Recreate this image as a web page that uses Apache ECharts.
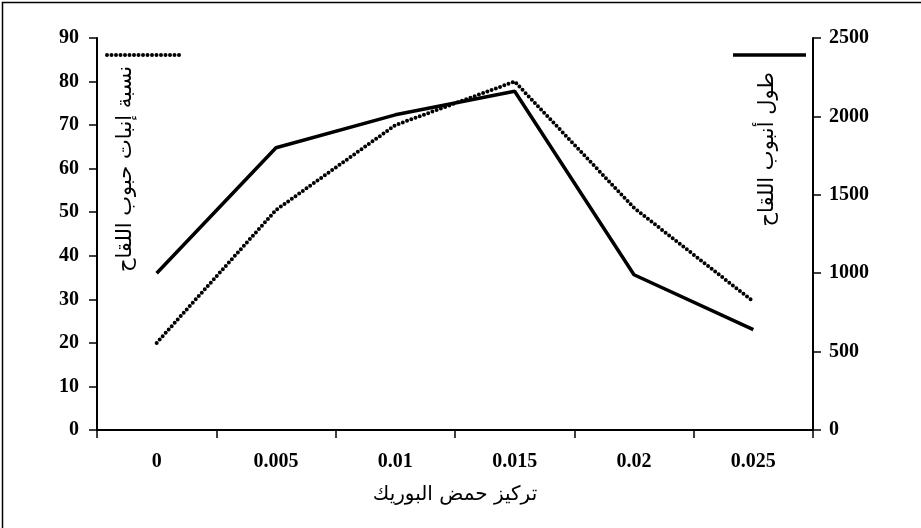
<!DOCTYPE html>
<html>
<head>
<meta charset="UTF-8">
<title>chart</title>
<script src="https://cdn.jsdelivr.net/npm/echarts@6/dist/echarts.min.js"></script>
<style>
html,body{margin:0;padding:0;background:#fff;}
#main{width:921px;height:528px;}
</style>
</head>
<body>
<div id="main"></div>
<script>
var categories = ['0', '0.005', '0.01', '0.015', '0.02', '0.025'];
var germination = [20, 50.5, 70, 80, 51, 29.5];
var tubeLength = [1000, 1800, 2010, 2160, 990, 640];
var leftTicks = [0, 90, 10];
var rightTicks = [0, 2500, 500];

var chart = echarts.init(document.getElementById('main'));
var serif = 'Liberation Serif';
var axisLabel = {color: '#000', fontFamily: serif, fontWeight: 'bold', fontSize: 20};
var option = {
	animation: false,
	grid: {left: 97, right: 108, top: 38, bottom: 98},
	xAxis: {
		type: 'category', data: categories, boundaryGap: true,
		axisLine: {lineStyle: {color: '#000', width: 2}},
		axisTick: {show: true, length: 8, inside: false, lineStyle: {color: '#000', width: 1.5}},
		axisLabel: Object.assign({margin: 22}, axisLabel),
		name: 'تركيز حمض البوريك', nameLocation: 'middle', nameGap: 55,
		nameTextStyle: {color: '#000', fontFamily: 'DejaVu Sans', fontSize: 20}
	},
	yAxis: [{
		type: 'value', min: leftTicks[0], max: leftTicks[1], interval: leftTicks[2],
		axisLine: {show: true, lineStyle: {color: '#000', width: 2}},
		axisTick: {show: true, length: 8, lineStyle: {color: '#000', width: 1.5}},
		splitLine: {show: false},
		axisLabel: Object.assign({margin: 18}, axisLabel)
	}, {
		type: 'value', min: rightTicks[0], max: rightTicks[1], interval: rightTicks[2],
		position: 'right',
		axisLine: {show: true, lineStyle: {color: '#000', width: 2}},
		axisTick: {show: true, length: 8, lineStyle: {color: '#000', width: 1.5}},
		splitLine: {show: false},
		axisLabel: Object.assign({margin: 16, formatter: function (v) { return String(v); }}, axisLabel)
	}],
	series: [{
		name: 'germination', type: 'line', yAxisIndex: 0, data: germination,
		symbol: 'none',
		lineStyle: {color: '#000', width: 4, type: [0, 4.5], cap: 'round'}
	}, {
		name: 'tube', type: 'line', yAxisIndex: 1, data: tubeLength,
		symbol: 'none',
		lineStyle: {color: '#000', width: 3.5}
	}],
	graphic: [
		{type: 'rect', left: 0, top: 0, shape: {width: 920, height: 527}, style: {fill: 'none', stroke: '#000', lineWidth: 1.5}},
		{type: 'line', shape: {x1: 107, y1: 55, x2: 183, y2: 55}, style: {stroke: '#000', lineWidth: 4, lineDash: [0, 4.5], lineCap: 'round'}},
		{type: 'line', shape: {x1: 733, y1: 55, x2: 806, y2: 55}, style: {stroke: '#000', lineWidth: 3.5}},
		{type: 'text', x: 126, y: 66, rotation: Math.PI / 2,
			style: {text: 'نسبة إنبات حبوب اللقاح', fill: '#000', font: '21px "DejaVu Sans"', textAlign: 'right', textVerticalAlign: 'middle'}},
		{type: 'text', x: 768, y: 72, rotation: Math.PI / 2,
			style: {text: 'طول أنبوب اللقاح', fill: '#000', font: '21px "DejaVu Sans"', textAlign: 'right', textVerticalAlign: 'middle'}}
	]
};
chart.setOption(option);
</script>
</body>
</html>
